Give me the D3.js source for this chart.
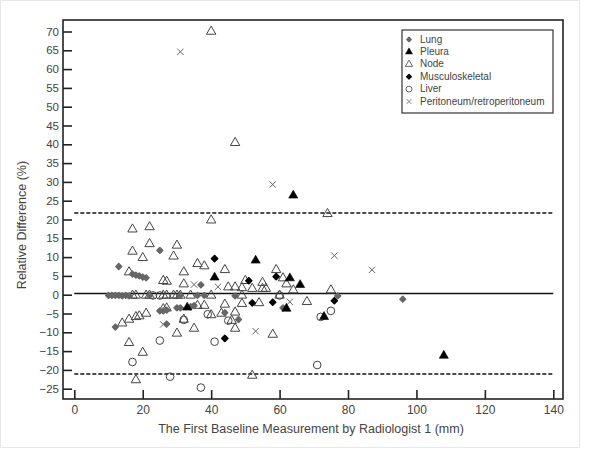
<!DOCTYPE html>
<html><head><meta charset="utf-8">
<script src="https://cdn.jsdelivr.net/npm/d3@7"></script>
<style>body{margin:0;background:#fff;}svg{display:block;font-family:Arial,"Liberation Sans",sans-serif;}</style>
</head><body>
<svg id="c" width="604" height="455"></svg>
<script>
const xTicks = [0,20,40,60,80,100,120,140];
const yTicks = [-25,-20,-15,-10,-5,0,5,10,15,20,25,30,35,40,45,50,55,60,65,70];
const meanDiff = 0.3, upperLoA = 21.7, lowerLoA = -21.1;
const categories = ["Lung","Pleura","Node","Musculoskeletal","Liver","Peritoneum/retroperitoneum"];

const lung = [[13,7.5],[25,11.8],[17,5.5],[18,5.2],[19,5.0],[20,4.7],[21,4.5],[37,2.6],[12,-8.6],[27,-7.8],[48,-6.6],[44,-4.8],[25,-4.3],[26,-4.3],[27,-4.1],[30,-3.5],[31,-3.5],[34,-3.2],[35,-2.9],[61,-3.5],[96,-1.2],[77,-0.3],[47,-0.3],[10,-0.2],[11,-0.2],[12,-0.2],[13,-0.2],[14,-0.3],[15,-0.2],[16,-0.3],[31,-0.2],[36,-0.2],[38,-0.2],[22,-0.2]];
const pleura = [[64,26.4],[53,9.1],[41,4.6],[63,4.4],[66,2.6],[33,-3.4],[62,-3.7],[73,-5.9],[108,-16.2]];
const node = [[40,70],[47,40.4],[74,21.5],[40,19.8],[17,17.4],[22,18],[22,13.5],[17,11.5],[30,13.1],[20,9.8],[29,10.2],[36,8.2],[38,7.6],[16,6],[32,6],[44,6.6],[59,6.6],[26,3.7],[27,3.5],[32,2.8],[45,2],[47,2],[49,1.8],[52,1.6],[50,3.7],[55,3.2],[55,1.6],[56,1.6],[61,4.4],[62,2.8],[64,1.2],[75,1.2],[17,-0.2],[18,-0.2],[21,-0.2],[22,-0.2],[26,-0.2],[27,-0.2],[29,-0.2],[30,-0.2],[31,-0.2],[34,-0.2],[40,-0.2],[49,-0.2],[60,-0.2],[36,-2.9],[38,-2.9],[44,-2.6],[49,-2.4],[54,-2.2],[68,-1.9],[40,-5.4],[43,-5],[47,-4.7],[21,-5],[19,-5.7],[18,-5.9],[16,-6.6],[14,-7.6],[32,-6.6],[46,-6.9],[35,-9],[47,-9],[30,-10.3],[58,-10.6],[16,-12.8],[20,-15.4],[52,-21.5],[18,-22.7],[26,-3.8],[27,-3.6]];
const musculo = [[41,9.6],[51,3.7],[59,4.8],[52,-2.2],[58,-2],[76,-1.6],[44,-11.6]];
const liver = [[39,-5.2],[32,-6.7],[45,-6.9],[25,-12.2],[41,-12.5],[17,-17.9],[28,-21.8],[37,-24.7],[71,-18.7],[72,-5.9],[75,-4.3],[60,-0.2],[23,-0.2],[25,-0.2]];
const perit = [[31,64.6],[58,29.3],[76,10.4],[87,6.6],[35,2.7],[42,2.1],[63,-1.9],[53,-9.7],[26,-7.9]];

const svg = d3.select("#c");
const frame = {l:63, r:563, t:20, b:399};
const x = d3.scaleLinear().domain([0,140]).range([74.3,553.3]);
const y = d3.scaleLinear().domain([-25,70]).range([388.7,31.5]);

// faint outer border
svg.append("rect").attr("x",0.5).attr("y",0.5).attr("width",579).attr("height",447)
  .attr("fill","none").attr("stroke","#e8e8e8");

// frame
svg.append("rect").attr("x",frame.l).attr("y",frame.t).attr("width",frame.r-frame.l).attr("height",frame.b-frame.t)
  .attr("fill","none").attr("stroke","#222").attr("stroke-width",1.6);

// y axis (ticks inward)
const yAxis = d3.axisLeft(y).tickValues(yTicks).tickSize(-9).tickPadding(4);
const ga = svg.append("g").attr("transform",`translate(${frame.l},0)`).call(yAxis);
ga.select(".domain").remove();
ga.selectAll("line").attr("stroke","#222").attr("stroke-width",1.6);
ga.selectAll("text").attr("font-size",11.5).attr("fill","#444");

// x axis (ticks inward)
const xAxis = d3.axisBottom(x).tickValues(xTicks).tickSize(-9).tickPadding(6);
const gx = svg.append("g").attr("transform",`translate(0,${frame.b})`).call(xAxis);
gx.select(".domain").remove();
gx.selectAll("line").attr("stroke","#222").attr("stroke-width",1.6);
gx.selectAll("text").attr("font-size",12).attr("fill","#444");

// titles
svg.append("text").attr("x",311).attr("y",433).attr("text-anchor","middle")
  .attr("font-size",12.5).attr("fill","#444").text("The First Baseline Measurement by Radiologist 1 (mm)");
svg.append("text").attr("transform","translate(26,225) rotate(-90)").attr("text-anchor","middle")
  .attr("font-size",12.5).attr("fill","#444").text("Relative Difference (%)");

// reference lines
const hl = (v,dash) => svg.append("line").attr("x1",x(0)).attr("x2",x(140)).attr("y1",y(v)).attr("y2",y(v))
  .attr("stroke","#111").attr("stroke-width",1.5).attr("stroke-dasharray",dash);
hl(meanDiff,null); hl(upperLoA,"4,2"); hl(lowerLoA,"4,2");

// marker drawing
const sym = {
  Lung: {type:d3.symbolSquare, size:16, rot:45, fill:"#666", stroke:"#666", sw:1.6},
  Pleura: {type:d3.symbolTriangle, size:36, rot:0, fill:"#000", stroke:"#000", sw:0.6},
  Node: {type:d3.symbolTriangle, size:38, rot:0, fill:"none", stroke:"#444", sw:1},
  Musculoskeletal: {type:d3.symbolSquare, size:18, rot:45, fill:"#000", stroke:"#000", sw:1.6},
  Liver: {type:d3.symbolCircle, size:46, rot:0, fill:"none", stroke:"#444", sw:1},
  "Peritoneum/retroperitoneum": {type:d3.symbolX, size:28, rot:0, fill:"none", stroke:"#666", sw:1}
};
const seriesData = {Lung:lung, Pleura:pleura, Node:node, Musculoskeletal:musculo, Liver:liver, "Peritoneum/retroperitoneum":perit};
const drawOrder = ["Node","Liver","Lung","Peritoneum/retroperitoneum","Musculoskeletal","Pleura"];
drawOrder.forEach(k => {
  const s = sym[k];
  svg.append("g").selectAll("path").data(seriesData[k]).join("path")
    .attr("transform",d=>`translate(${x(d[0])},${y(d[1])}) rotate(${s.rot})`)
    .attr("d",d3.symbol().type(s.type).size(s.size))
    .attr("fill",s.fill).attr("stroke",s.stroke).attr("stroke-width",s.sw).attr("stroke-linejoin","round");
});

// legend
const lg = svg.append("g");
lg.append("rect").attr("x",402).attr("y",30).attr("width",151).attr("height",83)
  .attr("fill","#fff").attr("stroke","#333").attr("stroke-width",1.2);
categories.forEach((c,i) => {
  const s = sym[c]; const yy = 39 + i*12.4;
  lg.append("path").attr("transform",`translate(409,${yy+0.5}) rotate(${s.rot})`)
    .attr("d",d3.symbol().type(s.type).size(s.size*0.6))
    .attr("fill",s.fill).attr("stroke",s.stroke).attr("stroke-width",s.sw*0.8).attr("stroke-linejoin","round");
  lg.append("text").attr("x",420).attr("y",yy).attr("dy","0.35em").attr("font-size",10)
    .attr("fill","#444").text(c);
});
</script>
</body></html>
